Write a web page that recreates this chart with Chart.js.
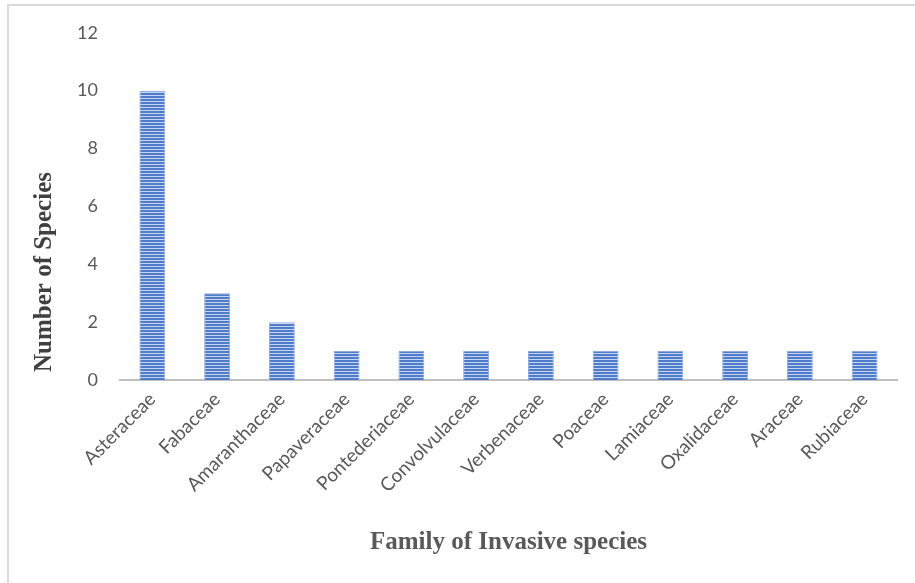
<!DOCTYPE html>
<html>
<head>
<meta charset="utf-8">
<script src="https://cdn.jsdelivr.net/npm/chart.js@4"></script>
<style>
  html, body { margin: 0; padding: 0; background: #fff; }
  #wrap { position: relative; width: 915px; height: 583px; overflow: hidden; }
  #frame { position: absolute; left: 7px; top: 4px; width: 920px; height: 590px;
           border-left: 2px solid #d9d9d9; border-top: 2px solid #d9d9d9; }
  canvas { position: absolute; left: 0; top: 0; }
</style>
</head>
<body>
<div id="wrap">
  <div id="frame"></div>
  <canvas id="chart" width="915" height="583"></canvas>
</div>
<script>
// Number of invasive species per plant family
const families = ['Asteraceae', 'Fabaceae', 'Amaranthaceae', 'Papaveraceae', 'Pontederiaceae',
  'Convolvulaceae', 'Verbenaceae', 'Poaceae', 'Lamiaceae', 'Oxalidaceae', 'Araceae', 'Rubiaceae'];
const speciesCounts = [10, 3, 2, 1, 1, 1, 1, 1, 1, 1, 1, 1];
const yTicks = [0, 2, 4, 6, 8, 10, 12];
const yAxisTitle = 'Number of Species';
const xAxisTitle = 'Family of Invasive species';

// Horizontal-stripe fill for the bars
function stripePattern() {
  const c = document.createElement('canvas');
  c.width = 4; c.height = 3;
  const g = c.getContext('2d');
  g.fillStyle = '#4e7bca';
  g.fillRect(0, 0, 4, 3);
  g.fillStyle = '#c6d5ef';
  g.fillRect(0, 2, 4, 1);
  return g.createPattern(c, 'repeat');
}

const tickFont = { family: 'Lato', size: 18 };
const labelFont = { family: 'Lato', size: 19 };
const titleFont = { family: 'Liberation Serif', size: 25, weight: 'bold' };

// Vertical value-axis title, drawn beside the tick labels
const yTitlePlugin = {
  id: 'yTitle',
  afterDraw(chart) {
    const ctx = chart.ctx;
    ctx.save();
    ctx.translate(45, 272);
    ctx.rotate(-Math.PI / 2);
    ctx.font = `bold ${titleFont.size}px "${titleFont.family}"`;
    ctx.fillStyle = '#404040';
    ctx.textAlign = 'center';
    ctx.textBaseline = 'middle';
    ctx.fillText(yAxisTitle, 0, 0);
    ctx.restore();
  }
};

new Chart(document.getElementById('chart'), {
  type: 'bar',
  data: {
    labels: families,
    datasets: [{
      data: speciesCounts,
      backgroundColor: stripePattern(),
      borderColor: '#8eaadc',
      borderWidth: 1,
      categoryPercentage: 1,
      barPercentage: 0.4
    }]
  },
  options: {
    responsive: false,
    animation: false,
    layout: { padding: { left: 20, right: 18, top: 31, bottom: 25 } },
    plugins: { legend: { display: false }, tooltip: { enabled: false } },
    scales: {
      x: {
        grid: { display: false, drawTicks: false },
        border: { color: '#bfbfbf', width: 2 },
        ticks: { color: '#595959', font: labelFont, minRotation: 45, maxRotation: 45, padding: 8 },
        title: { display: true, text: xAxisTitle, color: '#595959',
                 font: titleFont, padding: { top: 10, bottom: 0 } },
        afterFit: s => { s.height = 583 - 380 - 25; }
      },
      y: {
        min: 0, max: 12,
        afterBuildTicks: s => { s.ticks = yTicks.map(v => ({ value: v })); },
        grid: { display: false, drawTicks: false },
        border: { display: false },
        ticks: { color: '#595959', font: tickFont, padding: 22 },
        afterFit: s => { s.width = 100; }
      }
    }
  },
  plugins: [yTitlePlugin]
});
</script>
</body>
</html>
